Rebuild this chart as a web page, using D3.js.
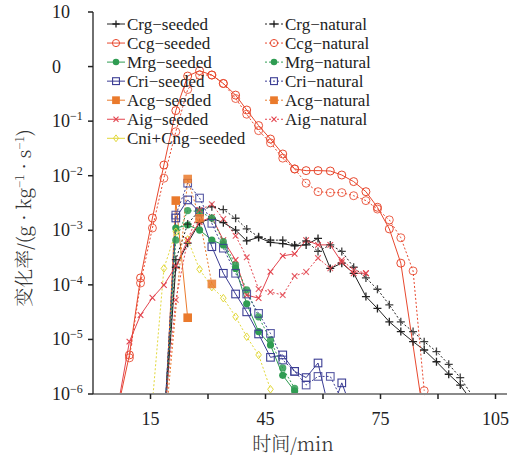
<!DOCTYPE html>
<html>
<head>
<meta charset="utf-8">
<script src="https://cdn.jsdelivr.net/npm/d3@7"></script>
<style>
  body { margin: 0; background: #fff; }
</style>
</head>
<body>
<div id="chart"></div>
<script>
// values, [time (min), rate (g·kg-1·s-1)]
const crgSeeded = [[18.5,2.2e-7],[21.6,2.1e-4],[24.7,5.8e-4],[27.8,1.38e-3],[31.0,1.66e-3],[34.0,1.38e-3],[37.2,1.01e-3],[40.1,6.4e-4],[43.2,7.4e-4],[46.3,6.0e-4],[49.5,5.7e-4],[52.6,5.2e-4],[55.6,5.4e-4],[58.7,7.1e-4],[61.9,2.0e-4],[64.9,2.5e-4],[68.0,1.63e-4],[71.2,6.1e-5],[74.2,3.7e-5],[77.3,2.1e-5],[80.3,1.39e-5],[83.5,9.1e-6],[86.4,6.4e-6],[89.6,3.9e-6],[92.8,2.3e-6],[95.8,1.46e-6],[99.0,7.1e-7]];
const crgNatural = [[18.5,3.3e-7],[21.6,2.9e-4],[24.7,1.3e-3],[27.8,2.35e-3],[31.0,2.7e-3],[34.0,2.4e-3],[37.2,1.66e-3],[40.1,1.06e-3],[43.2,7.6e-4],[46.3,6.6e-4],[49.5,6.6e-4],[52.6,5.4e-4],[55.6,6.4e-4],[58.7,4.1e-4],[61.9,5.4e-4],[64.9,4.1e-4],[68.0,2.1e-4],[71.2,1.34e-4],[74.2,8.3e-5],[77.3,4.3e-5],[80.3,2.1e-5],[83.5,1.39e-5],[86.4,9.1e-6],[89.6,6.0e-6],[92.8,3.5e-6],[95.8,2.0e-6],[99.0,9.2e-7]];
const ccgSeeded = [[6.4,5.1e-7],[9.5,5.2e-6],[12.4,1.34e-4],[15.5,1.68e-3],[18.5,1.57e-2],[21.6,0.156],[24.7,0.67],[27.8,0.84],[31.0,0.70],[34.0,0.49],[37.2,0.30],[40.1,0.16],[43.2,0.083],[46.3,0.047],[49.5,0.025],[52.6,0.0133],[55.6,0.0124],[58.7,0.0124],[61.9,0.0122],[64.9,0.0103],[68.0,0.0078],[71.2,0.0051],[74.2,0.00264],[77.3,0.00106],[80.3,2.5e-4],[86.4,3.3e-7]];
const ccgNatural = [[9.5,4.6e-6],[12.4,1.08e-4],[15.5,1.1e-3],[18.5,9.0e-3],[21.6,0.064],[24.7,0.38],[27.8,0.70],[31.0,0.70],[34.0,0.49],[37.2,0.26],[40.1,0.134],[43.2,0.067],[46.3,0.040],[49.5,0.021],[52.6,0.0133],[55.6,0.0073],[58.7,0.0051],[61.9,0.0049],[64.9,0.0049],[68.0,0.0043],[71.2,0.0035],[74.2,0.00245],[77.3,0.00155],[80.3,7.3e-4],[83.5,1.8e-4],[86.4,1.15e-6]];
const mrgSeeded = [[18.5,2.2e-7],[21.6,1.1e-3],[24.7,1.25e-3],[27.8,1.01e-3],[31.0,6.6e-4],[34.0,5.4e-4],[37.2,2.0e-4],[40.1,4.5e-5],[43.2,1.39e-5],[46.3,7.9e-6],[49.5,2.2e-6],[52.6,1.13e-6]];
const mrgNatural = [[18.5,2.2e-7],[21.6,6.6e-4],[24.7,2.3e-3],[27.8,2.2e-3],[31.0,1.68e-3],[34.0,6.2e-4],[37.2,2.3e-4],[40.1,8.1e-5],[43.2,2.6e-5],[46.3,9.8e-6],[49.5,3.0e-6],[52.6,1.27e-6]];
const criSeeded = [[18.5,2.2e-7],[21.6,1.68e-3],[24.7,3.6e-3],[27.8,2.16e-3],[31.0,5.0e-4],[34.0,1.63e-4],[37.2,6.8e-5],[40.1,3.2e-5],[43.2,1.26e-5],[46.3,4.7e-6],[49.5,5.2e-6],[52.6,2.6e-6],[55.6,2.0e-6],[58.7,3.7e-6],[61.9,4.1e-7],[64.9,1.6e-6],[68.0,4.1e-7]];
const criNatural = [[18.5,2.2e-7],[21.6,1.9e-3],[24.7,7.3e-3],[27.8,3.9e-3],[31.0,1.34e-3],[34.0,4.7e-4],[37.2,1.63e-4],[40.1,6.8e-5],[43.2,3.0e-5],[46.3,1.29e-5],[49.5,4.2e-6],[52.6,2.6e-6],[55.6,1.46e-6],[58.7,2.1e-6],[61.9,2.1e-6],[64.9,7.8e-7]];
const acgSeeded = [[18.5,1.4e-7],[21.6,3.5e-3],[24.7,2.5e-5]];
const acgNatural = [[18.5,1.4e-7],[24.7,8.7e-3],[27.8,1.66e-3],[31.0,1.04e-4]];
const aigSeeded = [[6.4,5.5e-7],[9.5,9.1e-6],[12.4,2.8e-5],[15.5,5.8e-5],[18.5,9.9e-5],[21.6,2.2e-4],[24.7,6.6e-4],[27.8,1.42e-3],[31.0,1.75e-3],[34.0,6.6e-4],[37.2,2.85e-4],[40.1,6.5e-5],[43.2,5.7e-5],[46.3,1.74e-4],[49.5,3.4e-4],[52.6,3.7e-4],[55.6,6.6e-4],[58.7,5.4e-4],[61.9,5.4e-4],[64.9,2.6e-4],[68.0,1.63e-4],[71.2,1.63e-4]];
const aigNatural = [[18.5,3.3e-7],[21.6,5.3e-5],[24.7,6.6e-4],[27.8,2.35e-3],[31.0,3.0e-3],[34.0,1.61e-3],[37.2,7.9e-4],[40.1,3.2e-4],[43.2,8.4e-5],[46.3,7.4e-5],[49.5,6.5e-5],[52.6,1.45e-4],[55.6,1.72e-4],[58.7,3.1e-4],[61.9,2.0e-4],[64.9,2.85e-4],[68.0,1.87e-4],[71.2,1.63e-4]];
const cniCngSeeded = [[15.5,7.1e-7],[18.5,2.0e-4],[21.6,9.4e-4],[24.7,6.8e-4],[27.8,1.93e-4],[31.0,9.1e-5],[34.0,5.7e-5],[37.2,2.6e-5],[40.1,1.12e-5],[43.2,5.2e-6],[46.3,1.22e-6]];

const xTicks = [15, 30, 45, 60, 75, 90, 105];
const xTickLabels = ['15', '', '45', '', '75', '', '105'];
const yTicks = [10, 1, 1e-1, 1e-2, 1e-3, 1e-4, 1e-5, 1e-6];
const yTickLabels = [['10', ''], ['0', ''], ['10', '−1'], ['10', '−2'], ['10', '−3'], ['10', '−4'], ['10', '−5'], ['10', '−6']];

const series = [
  { name: 'Crg−seeded', data: crgSeeded, color: '#222222', marker: 'plus', dash: null, col: 0 },
  { name: 'Ccg−seeded', data: ccgSeeded, color: '#e8482e', marker: 'circle', dash: null, col: 0 },
  { name: 'Mrg−seeded', data: mrgSeeded, color: '#2f9c52', marker: 'dot', dash: null, col: 0 },
  { name: 'Cri−seeded', data: criSeeded, color: '#3b3d94', marker: 'square', dash: null, col: 0 },
  { name: 'Acg−seeded', data: acgSeeded, color: '#ea7a2c', marker: 'fsquare', dash: null, col: 0 },
  { name: 'Aig−seeded', data: aigSeeded, color: '#e3444e', marker: 'x', dash: null, col: 0 },
  { name: 'Cni+Cng−seeded', data: cniCngSeeded, color: '#e2d83a', marker: 'diamond', dash: '2,2', col: 0 },
  { name: 'Crg−natural', data: crgNatural, color: '#222222', marker: 'plus', dash: '2,2', col: 1 },
  { name: 'Ccg−natural', data: ccgNatural, color: '#e8482e', marker: 'circle', dash: '2,2', col: 1 },
  { name: 'Mrg−natural', data: mrgNatural, color: '#2f9c52', marker: 'dot', dash: '2,2', col: 1 },
  { name: 'Cri−natural', data: criNatural, color: '#3b3d94', marker: 'square', dash: '2,2', col: 1 },
  { name: 'Acg−natural', data: acgNatural, color: '#ea7a2c', marker: 'fsquare', dash: '2,2', col: 1 },
  { name: 'Aig−natural', data: aigNatural, color: '#e3444e', marker: 'x', dash: '2,2', col: 1 }
];

const serif = '"Liberation Serif", "Times New Roman", "DejaVu Serif", serif';
const cjk = '"Noto Serif CJK SC", "Noto Sans CJK SC", serif';

const width = 524, height = 460;
const margin = { top: 12, right: 17, bottom: 66, left: 93 };

const svg = d3.select('#chart').append('svg')
  .attr('width', width)
  .attr('height', height)
  .attr('font-family', serif);

const x = d3.scaleLinear().domain([0, 108]).range([margin.left, width - margin.right]);
const y = d3.scaleLog().domain([1e-6, 10]).range([height - margin.bottom, margin.top]);

svg.append('defs').append('clipPath').attr('id', 'plot')
  .append('rect')
  .attr('x', margin.left).attr('y', 0)
  .attr('width', width - margin.right - margin.left)
  .attr('height', height - margin.bottom);

const line = d3.line().x((d) => x(d[0])).y((d) => y(d[1]));

const drawMarker = (g, type, color, size) => {
  const s = size || 1;
  if (type === 'circle') {
    g.append('circle').attr('r', 4 * s).attr('fill', 'none').attr('stroke', color).attr('stroke-width', 1);
  } else if (type === 'dot') {
    g.append('circle').attr('r', 3.6 * s).attr('fill', color);
  } else if (type === 'square') {
    g.append('rect').attr('x', -3.8 * s).attr('y', -3.8 * s).attr('width', 7.6 * s).attr('height', 7.6 * s)
      .attr('fill', 'none').attr('stroke', color).attr('stroke-width', 1.1);
  } else if (type === 'fsquare') {
    g.append('rect').attr('x', -4.3 * s).attr('y', -4.3 * s).attr('width', 8.6 * s).attr('height', 8.6 * s)
      .attr('fill', color);
  } else if (type === 'plus') {
    g.append('path').attr('d', `M${-4 * s},0H${4 * s}M0,${-4 * s}V${4 * s}`)
      .attr('stroke', color).attr('stroke-width', 1.3);
  } else if (type === 'x') {
    g.append('path').attr('d', `M${-2.8 * s},${-2.8 * s}L${2.8 * s},${2.8 * s}M${-2.8 * s},${2.8 * s}L${2.8 * s},${-2.8 * s}`)
      .attr('stroke', color).attr('stroke-width', 1.1);
  } else if (type === 'diamond') {
    g.append('path').attr('d', `M0,${-3.8 * s}L${2.8 * s},0L0,${3.8 * s}L${-2.8 * s},0Z`)
      .attr('fill', 'none').attr('stroke', color).attr('stroke-width', 1);
  }
};

// lines
const plot = svg.append('g').attr('clip-path', 'url(#plot)');
series.forEach((s) => {
  plot.append('path')
    .datum(s.data)
    .attr('fill', 'none')
    .attr('stroke', s.color)
    .attr('stroke-width', 1)
    .attr('stroke-dasharray', s.dash)
    .attr('d', line);
});

// markers
series.forEach((s) => {
  s.data.filter((d) => d[1] >= 1e-6).forEach((d) => {
    const g = svg.append('g')
      .attr('transform', `translate(${x(d[0])},${y(d[1])})`)
      .attr('opacity', s.col === 1 ? 0.85 : 1);
    drawMarker(g, s.marker, s.color);
  });
});

// x axis
const bottom = height - margin.bottom;
svg.append('line')
  .attr('x1', margin.left).attr('x2', width - margin.right)
  .attr('y1', bottom).attr('y2', bottom)
  .attr('stroke', '#8a8a8a').attr('stroke-width', 2);
xTicks.forEach((t, i) => {
  svg.append('line')
    .attr('x1', x(t)).attr('x2', x(t))
    .attr('y1', bottom).attr('y2', bottom + 5)
    .attr('stroke', '#222').attr('stroke-width', 1.5);
  if (xTickLabels[i]) {
    svg.append('text')
      .attr('x', x(t)).attr('y', bottom + 31)
      .attr('text-anchor', 'middle')
      .attr('font-size', 18)
      .attr('fill', '#222')
      .text(xTickLabels[i]);
  }
});

// y axis
svg.append('line')
  .attr('x1', margin.left).attr('x2', margin.left)
  .attr('y1', margin.top).attr('y2', bottom)
  .attr('stroke', '#222').attr('stroke-width', 1.3);
yTicks.forEach((t, i) => {
  svg.append('line')
    .attr('x1', margin.left - 5).attr('x2', margin.left)
    .attr('y1', y(t)).attr('y2', y(t))
    .attr('stroke', '#222').attr('stroke-width', 1.5);
  const lab = svg.append('text')
    .attr('x', 52).attr('y', y(t) + 6)
    .attr('font-size', 18)
    .attr('fill', '#222');
  lab.append('tspan').text(yTickLabels[i][0]);
  if (yTickLabels[i][1]) {
    lab.append('tspan').attr('dy', -7).attr('font-size', 12).text(yTickLabels[i][1]);
  }
});

// axis titles
svg.append('text')
  .attr('x', 293).attr('y', 451)
  .attr('text-anchor', 'middle')
  .attr('font-size', 19)
  .attr('font-weight', 300)
  .attr('fill', '#333')
  .attr('font-family', cjk)
  .text('时间/min');

const yTitle = svg.append('text')
  .attr('transform', 'translate(31,218) rotate(-90)')
  .attr('text-anchor', 'middle')
  .attr('font-size', 19)
  .attr('font-weight', 300)
  .attr('fill', '#333')
  .attr('font-family', cjk);
yTitle.append('tspan').text('变化率/(g · kg');
yTitle.append('tspan').attr('dy', -7).attr('font-size', 12).text('−1');
yTitle.append('tspan').attr('dy', 7).text(' · s');
yTitle.append('tspan').attr('dy', -7).attr('font-size', 12).text('−1');
yTitle.append('tspan').attr('dy', 7).text(')');

// legend
const legendX = [107, 265];
series.forEach((s, i) => {
  const row = s.col === 0 ? i : i - 7;
  const ly = 24 + row * 19.05;
  const lx = legendX[s.col];
  svg.append('line')
    .attr('x1', lx).attr('x2', lx + 18)
    .attr('y1', ly).attr('y2', ly)
    .attr('stroke', s.color).attr('stroke-width', 1)
    .attr('stroke-dasharray', s.col === 1 ? '2,2' : null);
  const g = svg.append('g').attr('transform', `translate(${lx + 9},${ly})`);
  drawMarker(g, s.marker, s.color, 0.9);
  svg.append('text')
    .attr('x', lx + 20).attr('y', ly + 6)
    .attr('font-size', 17)
    .attr('fill', '#222')
    .text(s.name);
});
</script>
</body>
</html>
